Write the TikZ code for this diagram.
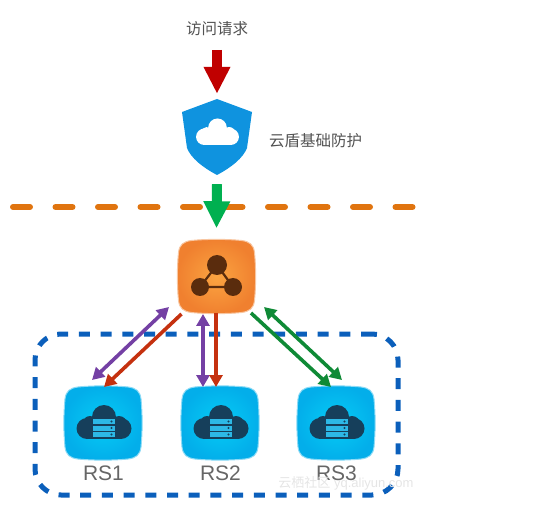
\documentclass[tikz,border=0pt]{standalone}
\usepackage{xcolor}
\usepackage{fontspec}
\setmainfont{Liberation Sans}
\newfontfamily\cjk{Noto Sans CJK SC}
\usetikzlibrary{arrows.meta}
\usetikzlibrary{calc}

\definecolor{cutorange}{HTML}{E0740F}
\definecolor{groupblue}{HTML}{0B5FBB}
\definecolor{shieldblue}{HTML}{0F93DF}
\definecolor{lbinner}{HTML}{FBA441}
\definecolor{lbouter}{HTML}{F0802F}
\definecolor{lbdark}{HTML}{5A2C0D}
\definecolor{rsinner}{HTML}{05CCF6}
\definecolor{rsouter}{HTML}{03AEEA}
\definecolor{rsdark}{HTML}{163F5B}
\definecolor{rsbar}{HTML}{2DB8E6}
\definecolor{bigred}{HTML}{C00000}
\definecolor{biggreen}{HTML}{00B050}
\definecolor{thinpurple}{HTML}{7440A4}
\definecolor{thinred}{HTML}{C5310F}
\definecolor{thingreen}{HTML}{0F8A36}

% squircle drawn behind a named node
\newcommand{\squircle}[3]{
  \shade[inner color=#2, outer color=#3, draw=#3!45, line width=1pt, shift={(#1.center)}]
    (-25,-36) .. controls (-10,-37.5) and (10,-37.5) .. (25,-36)
    .. controls (33,-35) and (37,-32) .. (38,-24)
    .. controls (39.5,-8) and (39.5,8) .. (38,24)
    .. controls (37,32) and (33,35) .. (25,36)
    .. controls (10,37.5) and (-10,37.5) .. (-25,36)
    .. controls (-33,35) and (-37,32) .. (-38,24)
    .. controls (-39.5,8) and (-39.5,-8) .. (-38,-24)
    .. controls (-37,-32) and (-33,-35) .. (-25,-36) -- cycle;
}
\newcommand{\cloudshape}[1]{
  \fill[#1] (-17,5.5) circle (10.5) (17,5.5) circle (10.5) (0,-6) circle (12) (-14,0) circle (7) (15,1) circle (8);
  \fill[#1] (-17,-5) rectangle (17,16);
}

\begin{document}
\begin{tikzpicture}[x=1pt, y=-1pt,
  reqlabel/.style={font=\cjk\fontsize{15.5}{18}\selectfont, text=black!68, inner sep=0pt},
  rslabel/.style={font=\fontsize{21}{24}\selectfont, text=black!60, inner sep=0pt},
  iconbox/.style={minimum width=76pt, minimum height=72pt, inner sep=0pt},
  bigarrow/.style={line width=10pt, -{Triangle[length=27pt, width=25pt]}},
  onearrow/.style={line width=3.6pt, -{Triangle[length=12pt, width=13pt]}},
  twoarrow/.style={line width=3.6pt, {Triangle[length=12pt, width=13pt]}-{Triangle[length=12pt, width=13pt]}}]
\useasboundingbox (0,0) rectangle (543,518);

\coordinate (cutleft) at (13,207);
\coordinate (cutright) at (417,207);
\draw[cutorange, line width=6pt, line cap=round, dash pattern=on 17pt off 25.5pt] (cutleft) -- (cutright);

% backend group
\node[draw=groupblue, line width=5pt, dash pattern=on 11pt off 10.7pt, rounded corners=26pt,
  minimum width=363pt, minimum height=161pt, inner sep=0pt] (group) at (216.5,414.5) {};

% top part
\node[reqlabel] (request) at (217,29) {访问请求};
\node[minimum width=70pt, minimum height=76pt, inner sep=0pt] (shield) at (217,137) {};
\fill[shieldblue] (217,99) -- (252,112) -- (247,148) .. controls (243,158) and (232,167) .. (217,175)
  .. controls (202,167) and (191,158) .. (187,148) -- (182,112) -- cycle;
\begin{scope}[shift={(217.5,132.5)}, scale=0.78]
\cloudshape{white}
\end{scope}
\node[reqlabel, anchor=west] (shieldlabel) at (269,141) {云盾基础防护};
\draw[bigarrow, color=bigred] ([yshift=-21pt]request.center) -- ([yshift=5pt]shield.north);

% load balancer
\node[iconbox] (lb) at (216.5,276.5) {};
\squircle{lb}{lbinner}{lbouter}
\fill[lbdark] (217,265) circle (10) (200,287) circle (9) (233,287) circle (9);
\draw[lbdark, line width=2.2pt] (217,265) -- (200,287) -- (233,287) -- cycle;
\draw[bigarrow, color=biggreen] ([yshift=-9pt]shield.south) -- ([yshift=12pt]lb.north);

% real servers
\foreach \name/\x/\lab in {rs1/103/RS1, rs2/220/RS2, rs3/336/RS3} {
  \node[iconbox] (\name) at (\x,423) {};
  \squircle{\name}{rsinner}{rsouter}
  \begin{scope}[shift={(\x+1,423)}]
    \cloudshape{rsdark}
    \foreach \y in {-4,2.5,9} {
      \fill[rsbar] (-11,\y) rectangle (11,\y+5);
      \fill[rsdark] (7.5,\y+2.5) circle (1.1);
    }
  \end{scope}
  \node[rslabel] (\name label) at (\x+0.5,473) {\lab};
}

% connectors
\draw[twoarrow, thinpurple] ([shift={(-47.5,30.5)}]lb.center) -- ([shift={(-11,-43)}]rs1.center);
\draw[onearrow, thinred] ([shift={(-35,37.5)}]lb.center) -- ([shift={(1,-36)}]rs1.center);
\draw[twoarrow, thinpurple] ([shift={(-13.5,37.5)}]lb.center) -- ([shift={(-17,-36)}]rs2.center);
\draw[onearrow, thinred] ([shift={(-0.5,36.5)}]lb.center) -- ([shift={(-4,-36)}]rs2.center);
\draw[onearrow, thingreen] ([shift={(34.5,36.5)}]lb.center) -- ([shift={(-5,-36)}]rs3.center);
\draw[twoarrow, thingreen] ([shift={(47.5,30.5)}]lb.center) -- ([shift={(6,-43)}]rs3.center);

\node[font=\fontsize{13}{15}\selectfont, text=black!10, inner sep=0pt] (mark) at (346,483) {{\cjk 云栖社区} yq.aliyun.com};
\end{tikzpicture}
\end{document}
